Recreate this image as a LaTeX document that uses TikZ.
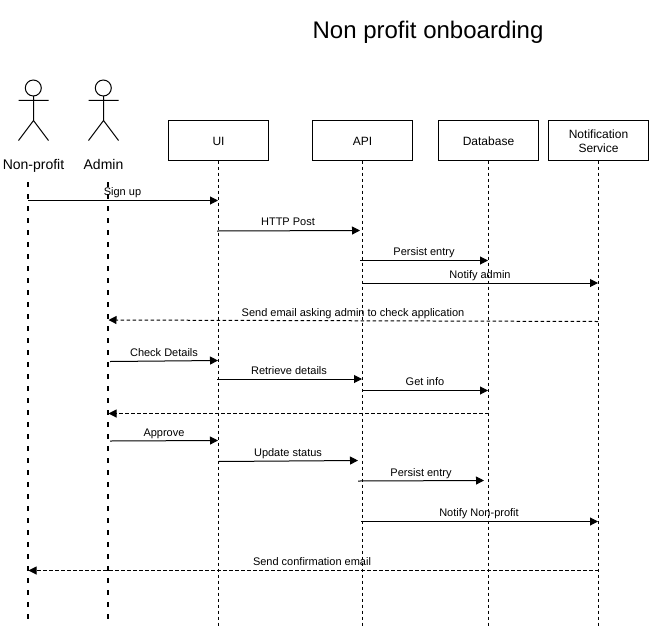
\documentclass[tikz,border=0pt]{standalone}
\usepackage{fontspec}
\setmainfont{Liberation Sans}
\usetikzlibrary{arrows.meta}
\tikzset{
  x=0.75pt,y=-0.75pt,
  lane/.style={draw=black,line width=0.75pt,minimum width=75.4pt,minimum height=30pt,inner sep=0pt,align=center,font=\fontsize{9}{10.5}\selectfont},
  thinlife/.style={draw=black,line width=0.75pt,dash pattern=on 2.6pt off 1.9pt},
  thicklife/.style={draw=black,line width=1.6pt,dash pattern=on 3.9pt off 5.1pt},
  msg/.style={draw=black,line width=0.75pt,-{Triangle[length=6pt,width=6pt]}},
  reply/.style={msg,dash pattern=on 2.6pt off 1.9pt},
  lbl/.style={inner sep=0pt,anchor=base,font=\fontsize{8.25}{10}\selectfont},
  actorname/.style={inner sep=0pt,anchor=base,font=\fontsize{10.5}{12}\selectfont},
  figure/.style={draw=black,line width=0.75pt},
}
\begin{document}
\begin{tikzpicture}
\useasboundingbox (0,0) rectangle (652,628);
\node[inner sep=0pt,anchor=base,font=\fontsize{18}{22}\selectfont] (title) at (428,38) {Non profit onboarding};
% actors
\draw[figure] (33.3,88) circle (8);
\draw[figure] (18.5,100.3) -- (48.5,100.3) (33.5,96) -- (33.5,120.5) (18.5,140.5) -- (33.5,120.5) -- (48.5,140.5);
\draw[figure] (103.3,88) circle (8);
\draw[figure] (88.5,100.3) -- (118.5,100.3) (103.5,96) -- (103.5,120.5) (88.5,140.5) -- (103.5,120.5) -- (118.5,140.5);
\node[actorname] (np) at (33.5,169) {Non-profit};
\node[actorname] (ad) at (103.5,169) {Admin};
% boxes
\node[lane] (ui) at (218.5,140) {\rule{0pt}{8pt}UI};
\node[lane] (api) at (362.5,140) {\rule{0pt}{8pt}API};
\node[lane] (db) at (488.5,140) {\rule{0pt}{8pt}Database};
\node[lane] (ns) at (598.5,140) {\rule{0pt}{8pt}Notification\\Service};
% lifeline ends
\coordinate (nptop) at (28.2,182); \coordinate (npend) at (28.2,622);
\coordinate (adtop) at (108.2,182); \coordinate (adend) at (108.2,622);
\coordinate (uiend) at (218.5,626); \coordinate (apiend) at (362.5,626);
\coordinate (dbend) at (488.5,626); \coordinate (nsend) at (598.5,626);
\draw[thicklife] (nptop) -- (npend);
\draw[thicklife] (adtop) -- (adend);
\draw[thinlife] (ui) -- (uiend);
\draw[thinlife] (api) -- (apiend);
\draw[thinlife] (db) -- (dbend);
\draw[thinlife] (ns) -- (nsend);
% messages
\coordinate (a1) at (28,200.5); \coordinate (b1) at (218,200.5);
\draw[msg] (a1) -- (b1);
\node[lbl] (t1) at (122.5,195) {Sign up};
\coordinate (a2) at (217,231); \coordinate (b2) at (360,230.5);
\draw[msg] (a2) -- (b2);
\node[lbl] (t2) at (288,225) {HTTP Post};
\coordinate (a3) at (360,260.5); \coordinate (b3) at (488,260.5);
\draw[msg] (a3) -- (b3);
\node[lbl] (t3) at (424,255) {Persist entry};
\coordinate (a4) at (363,283); \coordinate (b4) at (598,283);
\draw[msg] (a4) -- (b4);
\node[lbl] (t4) at (480,278) {Notify admin};
\coordinate (a5) at (598,321.5); \coordinate (b5) at (108.5,320);
\draw[reply] (a5) -- (b5);
\node[lbl] (t5) at (353,316) {Send email asking admin to check application};
\coordinate (a6) at (110,361.5); \coordinate (b6) at (218,360.5);
\draw[msg] (a6) -- (b6);
\node[lbl] (t6) at (164,356) {Check Details};
\coordinate (a7) at (217,379); \coordinate (b7) at (362,379);
\draw[msg] (a7) -- (b7);
\node[lbl] (t7) at (289,374) {Retrieve details};
\coordinate (a8) at (363,390.5); \coordinate (b8) at (488,390.5);
\draw[msg] (a8) -- (b8);
\node[lbl] (t8) at (425,385) {Get info};
\coordinate (a9) at (488.5,413.5); \coordinate (b9) at (108.5,413.5);
\draw[reply] (a9) -- (b9);
\coordinate (a10) at (110,441); \coordinate (b10) at (218,440.5);
\draw[msg] (a10) -- (b10);
\node[lbl] (t10) at (164,436) {Approve};
\coordinate (a11) at (218,461.5); \coordinate (b11) at (358,460.5);
\draw[msg] (a11) -- (b11);
\node[lbl] (t11) at (288,456) {Update status};
\coordinate (a12) at (358,481); \coordinate (b12) at (484,480.5);
\draw[msg] (a12) -- (b12);
\node[lbl] (t12) at (421,476) {Persist entry};
\coordinate (a13) at (361,521.5); \coordinate (b13) at (598,521.5);
\draw[msg] (a13) -- (b13);
\node[lbl] (t13) at (479,516) {Notify Non-profit};
\coordinate (a14) at (598.5,570.5); \coordinate (b14) at (28.5,570.5);
\draw[reply] (a14) -- (b14);
\node[lbl] (t14) at (312,565) {Send confirmation email};
\end{tikzpicture}
\end{document}
